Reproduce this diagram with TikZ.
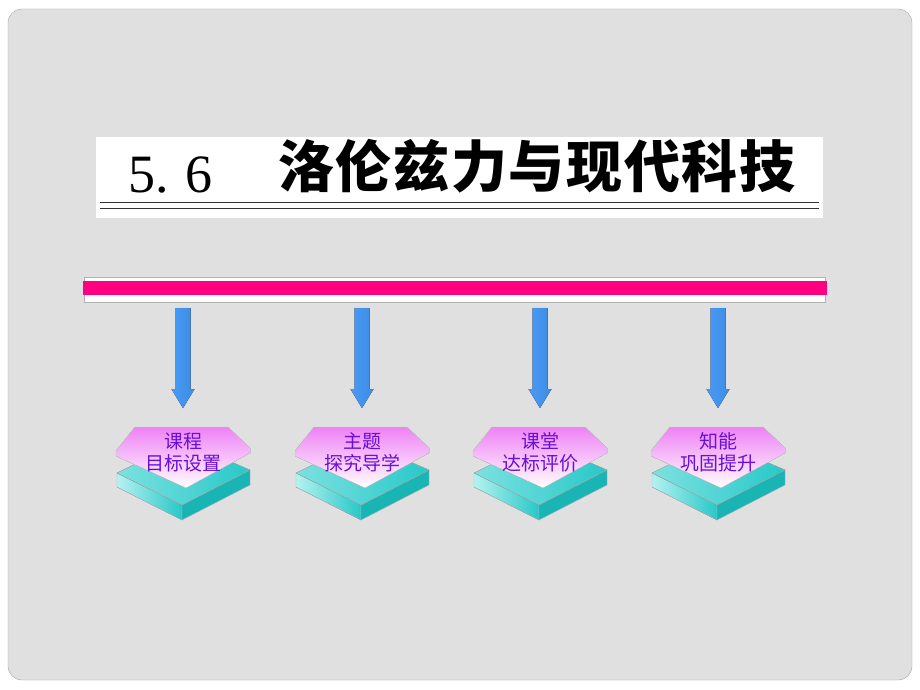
\documentclass[tikz,border=0pt]{standalone}
\usepackage{fontspec}
\setmainfont{Liberation Serif}
\newfontfamily\cjk{Noto Sans CJK SC}
\newfontfamily\cjktitle[LetterSpace=3]{Noto Sans CJK SC}
\usetikzlibrary{positioning,calc}

\definecolor{slide}{RGB}{224,224,224}
\definecolor{barpink}{RGB}{255,0,128}
\definecolor{arrowblue}{RGB}{70,155,250}
\definecolor{lightblue}{RGB}{160,210,255}
\definecolor{padpink}{RGB}{238,130,245}
\definecolor{padcyan}{RGB}{40,200,200}
\definecolor{lightcyan}{RGB}{180,242,240}
\definecolor{darkcyan}{RGB}{25,180,180}
\definecolor{labelviolet}{RGB}{105,15,215}

\tikzset{
  padlabel/.style={align=center, inner sep=0, text=labelviolet,
    font=\cjk\fontsize{19}{22}\selectfont},
  faceline/.style={draw=gray!60, line width=0.4pt}
}

\begin{document}
\begin{tikzpicture}[x=1pt,y=-1pt]
\useasboundingbox (0,0) rectangle (920,690);

%% slide
\fill[white] (0,0) rectangle (920,690);
\draw[gray!70, fill=slide, rounded corners=14pt] (8,9) rectangle (912,680);

%% title
\node[fill=white, minimum width=727, minimum height=81, inner sep=0] (titlebox) at (459.5,177.5) {};
\node[anchor=base west, inner sep=0, font=\fontsize{54}{60}\selectfont] (secnum) at (128,192) {5.\kern17pt 6};
\node[anchor=base west, inner sep=0, font=\cjktitle\bfseries\fontsize{56}{60}\selectfont] (title) at (278,187) {洛伦兹力与现代科技};
\draw[gray!40!black, line width=0.8pt] ($(titlebox.south west)+(4,-15.5)$) -- ($(titlebox.south east)+(-4,-15.5)$);
\draw[gray!40!black, line width=0.8pt] ($(titlebox.south west)+(4,-10)$) -- ($(titlebox.south east)+(-4,-10)$);

%% bar
\draw[gray!60, fill=white] (84,277) rectangle (825,302);
\node[fill=barpink, minimum width=744, minimum height=14, inner sep=0] (bar) at (455,288) {};

%%% arrows and pads
\foreach \x/\name/\txt in {183/goal/{课程\\目标设置}, 362/topic/{主题\\探究导学}, 540/class/{课堂\\达标评价}, 718/skill/{知能\\巩固提升}}{
  \coordinate (top-\name) at (\x,308);
  \coordinate (tip-\name) at (\x,408);
  % arrow
  \filldraw[draw=gray!55, fill=white!85!slide, shift={(-2,-3)}]
    (top-\name) ++(-7.5,0) -- ++(15,0) -- ++(0,81) -- ++(4,0) -- (tip-\name) -- ++(-11.5,-19) -- ++(4,0) -- cycle;
  \fill[left color=arrowblue, middle color=lightblue, right color=arrowblue!90!black]
    (top-\name) ++(-7.5,0) -- ++(15,0) -- ++(0,81) -- ++(4,0) -- (tip-\name) -- ++(-11.5,-19) -- ++(4,0) -- cycle;
  % cyan slab
  \coordinate (pad-\name) at (\x,0);
  \filldraw[faceline, left color=lightcyan, right color=padcyan]
    ($(pad-\name)+(-66,473)$) -- ($(pad-\name)+(-1,505)$) -- ($(pad-\name)+(-1,520)$) -- ($(pad-\name)+(-66,487)$) -- cycle;
  \filldraw[faceline, fill=darkcyan]
    ($(pad-\name)+(-1,505)$) -- ($(pad-\name)+(67,470)$) -- ($(pad-\name)+(67,485)$) -- ($(pad-\name)+(-1,520)$) -- cycle;
  \filldraw[faceline, left color=lightcyan!60!padcyan, right color=padcyan]
    ($(pad-\name)+(-66,473)$) -- ($(pad-\name)+(0,441)$) -- ($(pad-\name)+(67,470)$) -- ($(pad-\name)+(-1,505)$) -- cycle;
  % pink top
  \filldraw[draw=gray!40, top color=padpink, bottom color=white]
    ($(pad-\name)+(-67,451)$) -- ($(pad-\name)+(-48,427)$) -- ($(pad-\name)+(45,427)$) -- ($(pad-\name)+(67,448)$)
    -- ($(pad-\name)+(67,453)$) -- ($(pad-\name)+(3,488)$) -- ($(pad-\name)+(-67,456)$) -- cycle;
  \node[padlabel] (label-\name) at (\x,452) {\txt};
}

\end{tikzpicture}
\end{document}
